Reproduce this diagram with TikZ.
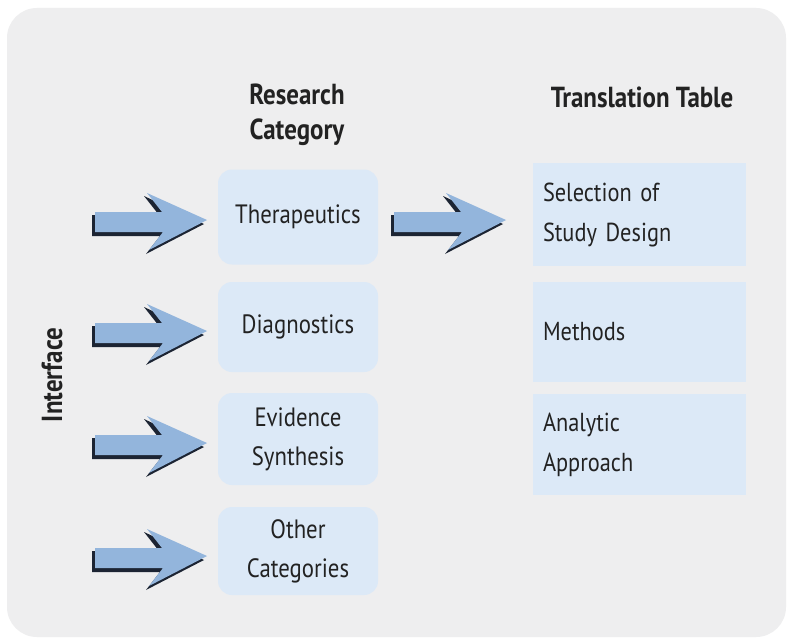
\documentclass[tikz,border=0pt]{standalone}
\usepackage{fontspec}
\setmainfont{PT Sans}[FakeStretch=0.86]
\usetikzlibrary{calc}
\definecolor{bgc}{HTML}{EEEEEF}
\definecolor{boxc}{HTML}{DCE9F7}
\definecolor{arrc}{HTML}{93B5DC}
\definecolor{shadc}{HTML}{1C2433}
\definecolor{txtc}{HTML}{222222}
\tikzset{
  rbox/.style={fill=boxc, rounded corners=14pt, minimum width=160pt, text=txtc,
    font=\fontsize{26.5}{39}\selectfont, align=center, inner sep=0pt},
  tbox/.style={fill=boxc, minimum width=213pt, text=txtc, text width=193pt,
    font=\fontsize{26}{40}\selectfont, align=left, inner sep=0pt},
  hdr/.style={font=\bfseries\fontsize{29}{35}\selectfont, text=txtc, align=center},
  barrow/.pic={
    \fill[shadc] (-115,-5) -- (-48,-5) -- (-63,-24) -- (-3,4) -- (-61,34) -- (-47,16) -- (-115,16) -- cycle;
    \fill[arrc] (-112,-8) -- (-45,-8) -- (-60,-27) -- (0,0) -- (-58,30) -- (-44,12) -- (-112,12) -- cycle;
  }
}
\begin{document}
\begin{tikzpicture}[x=1pt,y=-1pt]
\useasboundingbox (0,0) rectangle (792,642);
\fill[white] (0,0) rectangle (792,642);
\fill[bgc, rounded corners=30pt] (7,8) rectangle (786,637);

\node[hdr] (rh) at (297,115) {Research\\Category};
\node[hdr] (th) at (642,97) {Translation Table};
\node[hdr, rotate=90] (iface) at (52,375) {Interface};

\node[rbox, minimum height=95pt] (ther) at (298,217) {Therapeutics};
\node[rbox, minimum height=90pt] (diag) at (298,327) {Diagnostics};
\node[rbox, minimum height=92pt] (evid) at (298,439) {Evidence\\Synthesis};
\node[rbox, minimum height=88pt] (other) at (298,551) {Other\\Categories};

\node[tbox, minimum height=103pt] (sel) at (639.5,214.5) {Selection of\\Study Design};
\node[tbox, minimum height=100pt] (meth) at (639.5,332) {Methods};
\node[tbox, minimum height=101pt] (anal) at (639.5,444.5) {Analytic\\Approach};

\pic at (207,220) {barrow};
\pic at (207,331) {barrow};
\pic at (207,443) {barrow};
\pic at (207,556) {barrow};
\pic at (506,220) {barrow};
\end{tikzpicture}
\end{document}
